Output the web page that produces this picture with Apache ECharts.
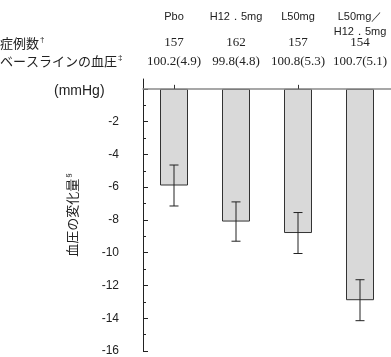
<!DOCTYPE html>
<html><head><meta charset="utf-8">
<script src="https://cdn.jsdelivr.net/npm/echarts@6/dist/echarts.min.js"></script>
<style>html,body{margin:0;padding:0;background:#fff}#c{width:391px;height:357px}</style>
</head><body><div id="c"></div>
<script>
// ---- data ----
const groups = ['Pbo', 'H12．5mg', 'L50mg', 'L50mg／\nH12．5mg'];
const nCases = [157, 162, 157, 154];
const baselineMean = [100.2, 99.8, 100.8, 100.7];
const baselineSD = [4.9, 4.8, 5.3, 5.1];
const changeMean = [-5.9, -8.1, -8.8, -12.9];
const changeErr = [1.25, 1.2, 1.25, 1.25];
const yLabelValues = [-16, -14, -12, -10, -8, -6, -4, -2];
const yMajorTicks = [-16, -14, -12, -10, -8, -6, -4, -2, 0];
const yMinorTicks = [-15, -13, -11, -9, -7, -5, -3, -1];
const yMin = -16, yMax = 0.6;

const JP = '"Noto Sans CJK JP", sans-serif';
const SANS = '"Liberation Sans", Arial, sans-serif';
const SERIF = '"Liberation Serif", "Times New Roman", serif';

const supRich = {s: {fontFamily: SANS, fontSize: 8, color: '#222', padding: [0, 0, 6, 1]}};

const chart = echarts.init(document.getElementById('c'), null, {renderer: 'canvas'});

const hiddenAxis = {
  type: 'category', data: groups, position: 'top', axisLine: {show: false, onZero: false},
  axisTick: {show: false}, splitLine: {show: false}
};

chart.setOption({
  animation: false,
  backgroundColor: '#fff',
  grid: {left: 143, right: 0, top: 79, bottom: 5.3, containLabel: false},
  xAxis: [
    {
      type: 'category', data: groups, position: 'bottom', z: 10,
      axisLine: {onZero: true, onZeroAxisIndex: 0, lineStyle: {color: '#8a8a8a', width: 1.5}},
      axisTick: {show: true, inside: true, alignWithLabel: true, length: 4, lineStyle: {color: '#333', width: 1}},
      axisLabel: {show: false}, splitLine: {show: false}
    },
    Object.assign({}, hiddenAxis, {
      offset: 70,
      axisLabel: {interval: 0, margin: 0, verticalAlign: 'top', fontFamily: SANS, fontSize: 11,
        lineHeight: 15, color: '#222'}
    }),
    Object.assign({}, hiddenAxis, {
      offset: 36, data: nCases.map(String),
      axisLabel: {interval: 0, margin: 0, verticalAlign: 'middle', fontFamily: SERIF, fontSize: 13, color: '#222'}
    }),
    Object.assign({}, hiddenAxis, {
      offset: 17, data: baselineMean.map((m, i) => m.toFixed(1) + '(' + baselineSD[i].toFixed(1) + ')'),
      axisLabel: {interval: 0, margin: 0, verticalAlign: 'middle', fontFamily: SERIF, fontSize: 13, color: '#222'}
    })
  ],
  yAxis: [
    {
      type: 'value', min: yMin, max: yMax, position: 'left',
      name: '血圧の変化量{s|§}', nameLocation: 'middle', nameGap: 64, nameRotate: 90,
      nameTextStyle: {fontFamily: JP, fontSize: 13, color: '#222', rich: supRich},
      axisLine: {show: true, onZero: false, lineStyle: {color: '#222', width: 1}},
      axisTick: {show: true, inside: true, length: 5, customValues: yMajorTicks, lineStyle: {color: '#222'}},
      axisLabel: {customValues: yLabelValues, margin: 24, fontFamily: SANS, fontSize: 12, color: '#222'},
      splitLine: {show: false}
    },
    {
      type: 'value', min: yMin, max: yMax, position: 'left',
      axisLine: {show: false, onZero: false},
      axisTick: {show: true, inside: true, length: 3, customValues: yMinorTicks, lineStyle: {color: '#222'}},
      axisLabel: {show: false}, splitLine: {show: false}
    }
  ],
  graphic: [
    {type: 'text', left: 0, top: 36, style: {text: '症例数{s|†}', font: '13px ' + JP, fill: '#222', rich: supRich}},
    {type: 'text', left: 0, top: 54, style: {text: 'ベースラインの血圧{s|‡}', font: '13px ' + JP, fill: '#222', rich: supRich}},
    {type: 'text', left: 54, top: 84, style: {text: '(mmHg)', font: '14px ' + SANS, fill: '#222'}}
  ],
  series: [
    {
      type: 'bar', xAxisIndex: 0, yAxisIndex: 0, data: changeMean, barWidth: 28,
      itemStyle: {color: '#d9d9d9', borderColor: '#333', borderWidth: 1}
    },
    {
      type: 'custom', xAxisIndex: 0, yAxisIndex: 0, z: 5,
      data: changeMean.map((m, i) => [i, m - changeErr[i], m + changeErr[i]]),
      renderItem: function (params, api) {
        const lo = api.coord([api.value(0), api.value(1)]);
        const hi = api.coord([api.value(0), api.value(2)]);
        const w = 4.5;
        const st = {stroke: '#222', lineWidth: 1};
        return {type: 'group', children: [
          {type: 'line', shape: {x1: hi[0], y1: hi[1], x2: lo[0], y2: lo[1]}, style: st},
          {type: 'line', shape: {x1: hi[0] - w, y1: hi[1], x2: hi[0] + w, y2: hi[1]}, style: st},
          {type: 'line', shape: {x1: lo[0] - w, y1: lo[1], x2: lo[0] + w, y2: lo[1]}, style: st}
        ]};
      }
    }
  ]
});
</script>
</body></html>
